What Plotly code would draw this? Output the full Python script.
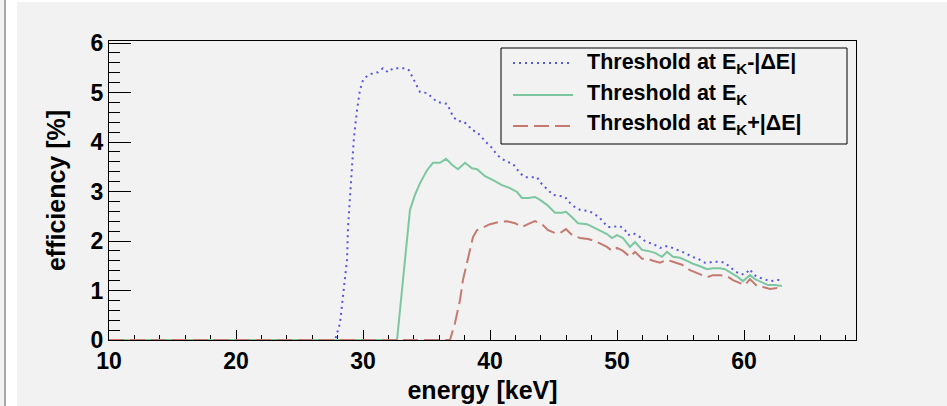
import plotly.graph_objects as go

# Detection efficiency vs. photon energy for three threshold settings
energy_low = [10.0, 27.80, 28.19, 28.43, 28.74, 28.82, 28.98, 29.13, 29.29, 29.53, 29.76,
              30.00, 30.39, 30.79, 31.18, 31.57, 31.97, 32.36, 32.91, 33.31, 33.62,
              33.86, 34.25, 34.49, 35.04, 35.43, 35.83, 36.22, 36.61, 36.85, 37.09,
              37.48, 37.87, 38.27, 38.58, 38.98, 39.37, 39.76, 40.16, 40.55, 40.94,
              41.34, 41.81, 42.36, 42.76, 43.15, 43.70, 43.94, 44.33, 44.96, 45.51,
              45.91, 46.14, 46.54, 47.09, 47.64, 48.11, 48.66, 49.29, 49.84, 50.24,
              50.63, 50.87, 51.26, 51.81, 52.20, 52.60, 52.99, 53.39, 53.78, 54.17,
              54.57, 54.96, 55.51, 55.91, 56.38, 56.93, 57.17, 57.56, 58.11, 58.50,
              58.90, 59.29, 59.69, 60.08, 60.47, 60.71, 61.10, 61.65, 62.05, 62.60, 62.83]
eff_low = [0.0, 0.0, 0.34, 0.95, 1.62, 2.28, 2.97, 3.64, 4.10, 4.65, 5.05,
           5.25, 5.35, 5.39, 5.41, 5.49, 5.41, 5.49, 5.49, 5.49, 5.45,
           5.33, 5.11, 5.01, 4.99, 4.91, 4.81, 4.79, 4.77, 4.65, 4.51,
           4.42, 4.42, 4.34, 4.24, 4.20, 4.08, 3.98, 3.88, 3.74, 3.66,
           3.60, 3.56, 3.37, 3.29, 3.29, 3.29, 3.19, 3.09, 2.93, 2.91,
           2.89, 2.81, 2.71, 2.63, 2.61, 2.57, 2.46, 2.28, 2.30, 2.30,
           2.22, 2.12, 2.16, 2.08, 2.00, 1.96, 1.92, 1.86, 1.90, 1.88,
           1.84, 1.80, 1.74, 1.68, 1.64, 1.56, 1.56, 1.58, 1.58, 1.56,
           1.47, 1.39, 1.33, 1.33, 1.43, 1.33, 1.27, 1.23, 1.19, 1.21, 1.21]

energy_mid = [10.0, 32.68, 33.07, 33.46, 33.70, 34.09, 34.49, 35.04, 35.51, 36.06, 36.54,
              37.01, 37.48, 38.03, 38.58, 38.98, 39.61, 40.24, 40.94, 41.57, 42.13,
              42.52, 42.99, 43.54, 43.94, 44.49, 45.12, 45.67, 45.98, 46.46, 46.93,
              47.64, 48.11, 48.66, 49.21, 49.61, 50.00, 50.47, 51.02, 51.42, 51.97,
              52.44, 52.99, 53.54, 53.94, 54.41, 54.96, 55.51, 55.98, 56.54, 57.09,
              57.56, 58.11, 58.50, 59.06, 59.53, 59.92, 60.47, 60.87, 61.42, 61.89,
              62.44, 62.99]
eff_mid = [0.0, 0.0, 1.01, 2.08, 2.63, 2.93, 3.17, 3.43, 3.58, 3.58, 3.66,
           3.54, 3.45, 3.58, 3.47, 3.45, 3.31, 3.23, 3.13, 3.07, 2.99,
           2.87, 2.87, 2.89, 2.83, 2.73, 2.57, 2.57, 2.59, 2.48, 2.36,
           2.34, 2.28, 2.20, 2.14, 2.06, 2.12, 2.06, 1.88, 1.98, 1.82,
           1.80, 1.76, 1.68, 1.78, 1.68, 1.66, 1.60, 1.54, 1.49, 1.43,
           1.45, 1.45, 1.43, 1.35, 1.27, 1.19, 1.31, 1.23, 1.17, 1.11,
           1.11, 1.09]

energy_high = [10.0, 36.85, 37.24, 37.64, 37.87, 38.19, 38.43, 38.66, 38.98, 39.45, 40.00,
               40.63, 41.34, 41.97, 42.52, 42.99, 43.54, 44.09, 44.57, 45.12, 45.51,
               45.98, 46.46, 47.09, 47.72, 48.27, 48.82, 49.21, 49.61, 50.00, 50.47,
               51.02, 51.42, 51.97, 52.44, 52.83, 53.39, 53.94, 54.41, 55.12, 55.75,
               56.38, 57.09, 57.56, 58.11, 58.66, 59.13, 59.69, 60.08, 60.47, 61.02,
               61.50, 62.05, 62.60, 62.99]
eff_high = [0.0, 0.0, 0.34, 0.81, 1.21, 1.56, 1.88, 2.08, 2.22, 2.28, 2.34,
            2.38, 2.40, 2.36, 2.28, 2.34, 2.40, 2.34, 2.22, 2.16, 2.16,
            2.24, 2.12, 2.06, 2.04, 2.00, 1.92, 1.88, 1.80, 1.86, 1.80,
            1.68, 1.78, 1.64, 1.64, 1.60, 1.56, 1.62, 1.58, 1.52, 1.41,
            1.35, 1.27, 1.31, 1.31, 1.29, 1.21, 1.15, 1.11, 1.23, 1.09,
            1.07, 1.03, 1.05, 0.99]

series_names = ["Threshold at E<sub>K</sub>-|ΔE|",
                "Threshold at E<sub>K</sub>",
                "Threshold at E<sub>K</sub>+|ΔE|"]
series_colors = ["#5555e6", "#7cc7a0", "#c47a70"]
series_dash = ["2px,4px", "solid", "15px,6px"]

x_ticks = [10, 20, 30, 40, 50, 60]
y_ticks = [0, 1, 2, 3, 4, 5, 6]

W, H = 947, 406
ML, MR, MT, MB = 109, 91, 41, 66
PW, PH = W - ML - MR, H - MT - MB
BG = "#f2f2f2"
FONT = "Liberation Sans, Arial, Helvetica, sans-serif"


def px_x(p):
    return (p - ML) / PW


def px_y(p):
    return (H - MB - p) / PH


fig = go.Figure()
for xs, ys, name, color, dash in zip([energy_low, energy_mid, energy_high],
                                     [eff_low, eff_mid, eff_high],
                                     series_names, series_colors, series_dash):
    fig.add_trace(go.Scatter(x=xs, y=ys, mode="lines", name=name, showlegend=False,
                             line=dict(color=color, width=2, dash=dash)))

axis_common = dict(
    showline=True, linecolor="black", linewidth=1, mirror=True,
    showgrid=False, zeroline=False, ticks="inside", tickcolor="black", tickwidth=1,
    layer="below traces",
    tickfont=dict(family=FONT, size=23, color="black", weight="bold"),
)

fig.update_xaxes(
    range=[10, 10 + PW / 12.7], tickvals=x_ticks, ticklen=10,
    minor=dict(ticks="inside", ticklen=5, dtick=2, tick0=10, tickcolor="black"),
    title=dict(text="energy [keV]", standoff=8,
               font=dict(family=FONT, size=25, color="black", weight="bold")),
    **axis_common,
)
fig.update_yaxes(
    range=[0, PH / 49.5], tickvals=y_ticks, ticklen=22,
    minor=dict(ticks="inside", ticklen=11, dtick=0.2, tick0=0, tickcolor="black"),
    title=dict(text="efficiency [%]", standoff=17,
               font=dict(family=FONT, size=25, color="black", weight="bold")),
    **axis_common,
)

# page background and left border
shapes = [
    dict(type="rect", xref="paper", yref="paper", layer="below",
         x0=px_x(17), x1=px_x(W + 2), y0=px_y(2), y1=px_y(H + 2),
         fillcolor=BG, line=dict(width=0)),
    dict(type="rect", xref="paper", yref="paper", layer="below",
         x0=px_x(-2), x1=px_x(4), y0=px_y(-2), y1=px_y(H + 2),
         fillcolor=BG, line=dict(width=0)),
    dict(type="line", xref="paper", yref="paper", layer="below",
         x0=px_x(5), x1=px_x(5), y0=px_y(0), y1=px_y(H),
         line=dict(color="#a8a8a8", width=2)),
]

# legend box with line samples and labels
box_l, box_r, box_t, box_b = 501, 847, 48, 144
shapes.append(dict(type="rect", xref="paper", yref="paper", layer="above",
                   x0=px_x(box_l), x1=px_x(box_r), y0=px_y(box_t), y1=px_y(box_b),
                   fillcolor=BG, line=dict(color="black", width=1)))
annotations = []
sample_rows = [63, 95, 126]
text_rows = [64, 94, 124]
for name, color, dash, ys, yt in zip(series_names, series_colors, series_dash,
                                     sample_rows, text_rows):
    shapes.append(dict(type="line", xref="paper", yref="paper", layer="above",
                       x0=px_x(513), x1=px_x(573), y0=px_y(ys), y1=px_y(ys),
                       line=dict(color=color, width=2, dash=dash)))
    annotations.append(dict(xref="paper", yref="paper", x=px_x(585), y=px_y(yt),
                            xanchor="left", yanchor="middle", showarrow=False,
                            text=name,
                            font=dict(family=FONT, size=21.5, color="black",
                                      weight="bold")))

fig.update_layout(
    width=W, height=H,
    margin=dict(l=ML, r=MR, t=MT, b=MB, autoexpand=False),
    paper_bgcolor="white", plot_bgcolor=BG,
    showlegend=False,
    shapes=shapes,
    annotations=annotations,
)

fig.write_html("out.html")
